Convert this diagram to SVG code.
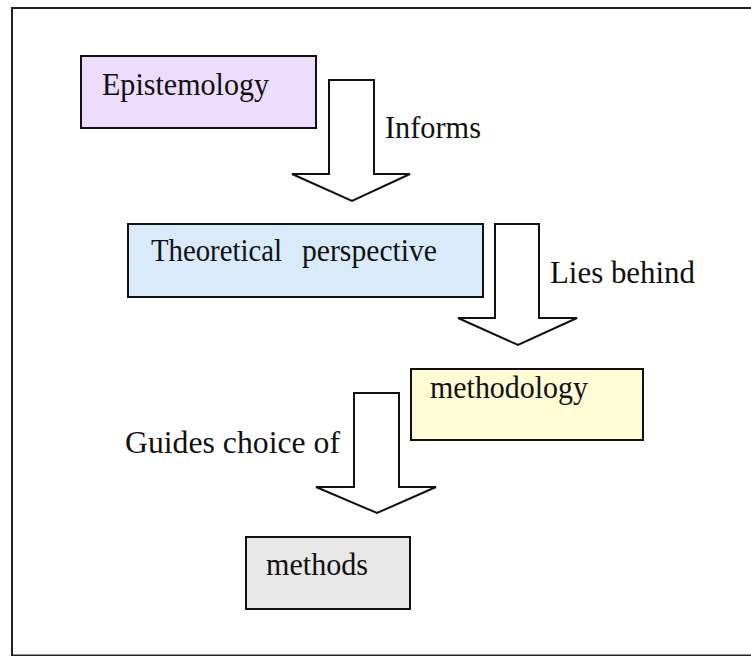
<svg xmlns="http://www.w3.org/2000/svg" width="751" height="656" viewBox="0 0 751 656">
<style>
  .box { stroke: #111; stroke-width: 2; }
  .arrow { fill: #fff; stroke: #111; stroke-width: 2; stroke-linejoin: miter; }
  text { font-family: "Liberation Serif", "Times New Roman", serif; font-size: 32px; fill: #111; }
</style>
<rect x="12" y="8" width="745" height="647.5" fill="#fff" stroke="#222" stroke-width="2"/>
<g id="connectors">
  <path class="arrow" d="M329,80 H374 V174 H410 L352,201 L292,174 H329 Z"/>
  <path class="arrow" d="M495,224 H539 V318 H577 L518,345 L458,318 H495 Z"/>
  <path class="arrow" d="M354,393 H399 V487 H436 L377,513 L316,487 H354 Z"/>
  <text x="385" y="138" textLength="96" lengthAdjust="spacingAndGlyphs">Informs</text>
  <text x="550" y="283" textLength="145" lengthAdjust="spacingAndGlyphs">Lies behind</text>
  <text x="125" y="453" textLength="215" lengthAdjust="spacingAndGlyphs">Guides choice of</text>
</g>
<g id="epistemology">
  <rect class="box" x="81" y="56" width="235" height="72" fill="#EBDDFB"/>
  <text x="102" y="95" textLength="167" lengthAdjust="spacingAndGlyphs">Epistemology</text>
</g>
<g id="theoretical-perspective">
  <rect class="box" x="128" y="224" width="355" height="73" fill="#D9EAFB"/>
  <text y="261"><tspan x="151" textLength="131" lengthAdjust="spacingAndGlyphs">Theoretical</tspan><tspan x="302" textLength="135" lengthAdjust="spacingAndGlyphs">perspective</tspan></text>
</g>
<g id="methodology">
  <rect class="box" x="411" y="369" width="232" height="71" fill="#FEFCD5"/>
  <text x="430" y="398" textLength="158" lengthAdjust="spacingAndGlyphs">methodology</text>
</g>
<g id="methods">
  <rect class="box" x="246" y="537" width="164" height="72" fill="#E8E8E8"/>
  <text x="266" y="575" textLength="102" lengthAdjust="spacingAndGlyphs">methods</text>
</g>
</svg>
